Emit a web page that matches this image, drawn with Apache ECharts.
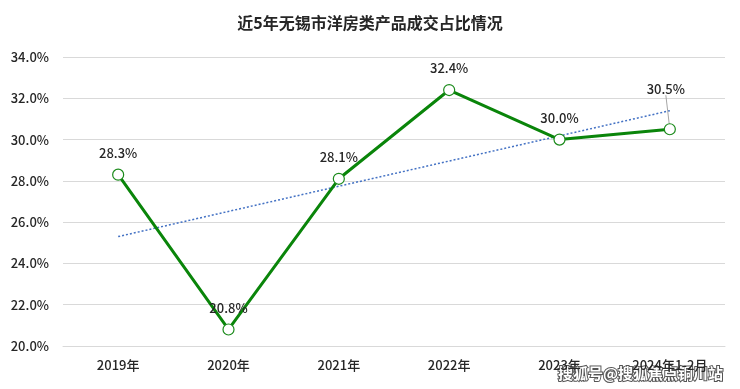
<!DOCTYPE html>
<html><head><meta charset="utf-8">
<script src="https://cdn.jsdelivr.net/npm/echarts@6/dist/echarts.min.js"></script>
<style>html,body{margin:0;padding:0;background:#fff}#c{width:740px;height:389px}</style>
</head><body><div id="c"></div>
<script>
var titleText = '近5年无锡市洋房类产品成交占比情况';
var categories = ['2019年','2020年','2021年','2022年','2023年','2024年1-2月'];
var shareValues = [28.3, 20.8, 28.1, 32.4, 30.0, 30.5];
var trendValues = [25.3, '-', '-', '-', '-', 31.4];
var yTicks = {min: 20, max: 34, interval: 2};
var watermark = '搜狐号@搜狐焦点铜川站';

var font = '"Noto Sans CJK SC", "Noto Sans", sans-serif';
var shareData = shareValues.map(function(v, i){
  return i === shareValues.length - 1 ? {value: v, labelLine: {show: true}} : {value: v};
});
var chart = echarts.init(document.getElementById('c'));
chart.setOption({
  animation: false,
  title: {text: titleText, left: 'center', top: 10,
    textStyle: {fontFamily: font, fontSize: 16, fontWeight: 'bold', color: '#262626'}},
  grid: {left: 63, right: 15, top: 57, bottom: 43},
  xAxis: {type: 'category', data: categories, boundaryGap: true,
    axisLine: {lineStyle: {color: '#d9d9d9'}}, axisTick: {show: false},
    axisLabel: {fontFamily: font, fontSize: 13, fontWeight: 500, color: '#262626', margin: 13}},
  yAxis: {type: 'value', min: yTicks.min, max: yTicks.max, interval: yTicks.interval,
    axisLine: {show: false}, axisTick: {show: false},
    splitLine: {lineStyle: {color: '#d9d9d9', width: 1}},
    axisLabel: {fontFamily: font, fontSize: 13, fontWeight: 500, color: '#262626', margin: 14,
      formatter: function(v){return v.toFixed(1)+'%';}}},
  series: [
    {type: 'line', data: trendValues, connectNulls: true, symbol: 'none', z: 1,
      lineStyle: {color: '#4472C4', width: 1.5, type: [2, 2]}},
    {type: 'line', data: shareData, z: 2,
      symbol: 'circle', symbolSize: 11, showAllSymbol: true,
      itemStyle: {color: '#fff', borderColor: '#1a8a1a', borderWidth: 1.2},
      lineStyle: {color: '#0a850a', width: 3},
      label: {show: true, position: 'top', distance: 9,
        fontFamily: font, fontSize: 13, fontWeight: 500, color: '#262626',
        formatter: function(p){return p.value.toFixed(1)+'%';}},
      labelLine: {show: false, lineStyle: {color: '#a6a6a6', width: 1}},
      labelLayout: function(p){ if (p.dataIndex === 5) return {dy: -19, dx: -4}; return {}; }
    }
  ],
  graphic: [{type: 'text', right: 16, top: 365,
    style: {text: watermark, fontFamily: font, fontSize: 15, fontWeight: 'bold',
      fill: '#fff', stroke: '#555', lineWidth: 2}}]
});
</script></body></html>
